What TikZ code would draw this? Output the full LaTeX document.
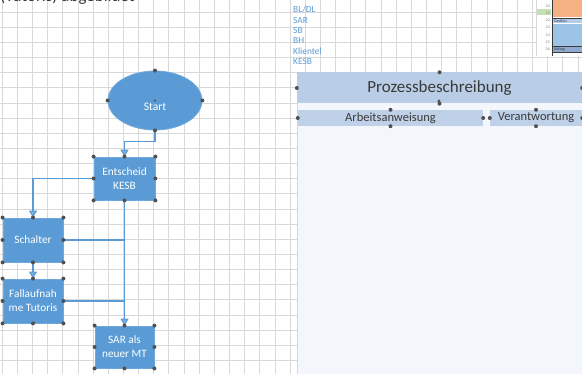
\documentclass[tikz,border=0pt]{standalone}
\usepackage{fontspec}
\setmainfont{Carlito}
\usetikzlibrary{arrows.meta,shapes.geometric}
\definecolor{gridc}{HTML}{D8D8D8}
\definecolor{shapeblue}{HTML}{5B9BD5}
\definecolor{shapeborder}{HTML}{6FA8DC}
\definecolor{connc}{HTML}{5B9BD5}
\definecolor{handlec}{HTML}{505050}
\definecolor{hdrfill}{HTML}{B9CDE6}
\definecolor{subfill}{HTML}{BFD1E8}
\definecolor{bodyfill}{HTML}{F3F6FB}
\definecolor{bodyedge}{HTML}{C9D7EA}
\definecolor{darktext}{HTML}{3A3A3A}
\definecolor{listblue}{HTML}{5E9BD6}
\definecolor{orangec}{HTML}{F4B183}
\definecolor{thumbblue}{HTML}{9DC3E6}
\definecolor{thumbrow}{HTML}{B4CDE8}
\definecolor{thumbgray}{HTML}{8FA9D0}
\definecolor{greenhl}{HTML}{C6E0B4}
\tikzset{
  x=1pt, y=-1pt,
  gridline/.style={gridc, line width=0.7pt},
  shapebox/.style={rectangle, fill=shapeblue, draw=shapeborder, line width=0.8pt,
    text=white, align=center, inner sep=0pt,
    font=\fontsize{11.3}{14}\selectfont},
  startshape/.style={ellipse, fill=shapeblue, draw=shapeborder, line width=0.8pt,
    text=white, inner sep=0pt, font=\fontsize{11.5}{14}\selectfont},
  conn/.style={connc, line width=1.1pt},
  arr/.style={conn, -{Triangle[width=8pt,length=7pt,fill=connc!80!white]}},
  handle/.style={fill=handlec},
  hdrbox/.style={rectangle, fill=hdrfill, inner sep=0pt, text=darktext,
    font=\fontsize{17}{20}\selectfont},
  subbox/.style={rectangle, fill=subfill, inner sep=0pt, text=darktext,
    font=\fontsize{12.5}{15}\selectfont},
  listtext/.style={anchor=base west, inner sep=0pt, text=listblue,
    font=\fontsize{9.4}{11}\selectfont},
  rownum/.style={anchor=base east, inner sep=0pt, text=gray,
    font=\fontsize{4}{5}\selectfont},
}
\newcommand{\rechandles}[1]{%
  \foreach \a in {north west,north,north east,east,south east,south,south west,west}
    \fill[handle] (#1.\a) circle (2);}
\newcommand{\sidehandles}[1]{%
  \foreach \a in {north,east,south,west}
    \fill[handle] (#1.\a) circle (2);}
\begin{document}
\begin{tikzpicture}
\useasboundingbox (0,0) rectangle (582,374);
\clip (0,0) rectangle (582,374);
\fill[white] (0,0) rectangle (582,374);
% grid
\foreach \i in {0,...,38} \draw[gridline] ({2.15+15.15*\i},0) -- ({2.15+15.15*\i},374);
\foreach \j in {0,...,24} \draw[gridline] (0,{12+15.15*\j}) -- (582,{12+15.15*\j});
% top cut-off text (cut off in the reference too)
\node[anchor=base west, inner sep=0pt, text=darktext, font=\fontsize{17}{20}\selectfont] (toptext) at (0,1.6) {(Tutoris) abgebildet};
% list
\node[listtext] (l1) at (293,13) {BL/DL};
\node[listtext] (l2) at (293,23.3) {SAR};
\node[listtext] (l3) at (293,33.6) {SB};
\node[listtext] (l4) at (293,43.9) {BH};
\node[listtext] (l5) at (293,54.2) {Klientel};
\node[listtext] (l6) at (293,64.5) {KESB};
% thumbnail top right
\fill[white] (536,0) rectangle (582,56);
\draw[gridline] (536,0) -- (536,56);
\fill[greenhl] (537,9) rectangle (551,15.5);
\fill[orangec] (553,0) rectangle (582,16.7);
\fill[thumbrow] (553,18) rectangle (582,23.5);
\draw[darktext, line width=0.6pt] (553,18) -- (582,18);
\node[anchor=base west, inner sep=0pt, text=darktext, font=\fontsize{4}{5}\selectfont] (g1) at (554,22.5) {Gestfan};
\fill[thumbblue] (553,24) rectangle (582,46.5);
\fill[thumbgray] (553,46.5) rectangle (582,52.3);
\draw[darktext, line width=0.6pt] (553,46.5) -- (582,46.5);
\draw[darktext, line width=0.6pt] (553,52.3) -- (582,52.3);
\node[anchor=base west, inner sep=0pt, text=darktext, font=\fontsize{4}{5}\selectfont] (g2) at (554,51) {Abfrag};
\draw[darktext, line width=0.7pt] (552,0) -- (552,56);
\foreach \n/\yy in {20/7.5,21/14.2,22/21.5,23/28.8,24/36.1,25/43.4,26/50.7}
  \node[rownum] at (550,\yy) {\n};
% panel
\fill[bodyfill] (297,103) rectangle (582,374);
\draw[bodyedge, line width=0.8pt] (297.5,103) -- (297.5,374);
\node[hdrbox, minimum width=285pt, minimum height=31pt] (proz) at (439.5,88) {Prozessbeschreibung};
\node[subbox, minimum width=185pt, minimum height=16pt] (arb) at (390.5,118) {Arbeitsanweisung};
\node[subbox, minimum width=92pt, minimum height=16pt] (ver) at (536,118) {Verantwortung};
\sidehandles{proz}
\sidehandles{arb}
\sidehandles{ver}
\fill[handle] (439,101) circle (1.6);
% flowchart shapes
\node[startshape, minimum width=94pt, minimum height=59pt] (start) at (155,100.5) {\raisebox{-10.5pt}[0pt][0pt]{Start}};
\node[shapebox, minimum width=61pt, minimum height=43pt] (ent) at (124.5,178.5) {Entscheid\\KESB};
\node[shapebox, minimum width=60pt, minimum height=44pt] (sch) at (33,240) {Schalter};
\node[shapebox, minimum width=60pt, minimum height=44pt] (fall) at (33,301) {Fallaufnah\\me Tutoris};
\node[shapebox, minimum width=59pt, minimum height=42pt] (sar) at (124.5,347) {SAR als\\neuer MT};
% connectors
\draw[arr] (start.south) -- ++(0,11) -| (ent.north);
\draw[arr] (ent.west) -| (sch.north);
\draw[arr] (ent.south) -- (sar.north);
\draw[conn] (sch.east) -- (sch.east -| ent.south);
\draw[conn] (fall.east) -- (fall.east -| ent.south);
\draw[arr] (sch.south) -- (fall.north);
% handles
\sidehandles{start}
\fill[handle] (start.center) circle (1.2);
\rechandles{ent}
\rechandles{sch}
\rechandles{fall}
\rechandles{sar}
\end{tikzpicture}
\end{document}
